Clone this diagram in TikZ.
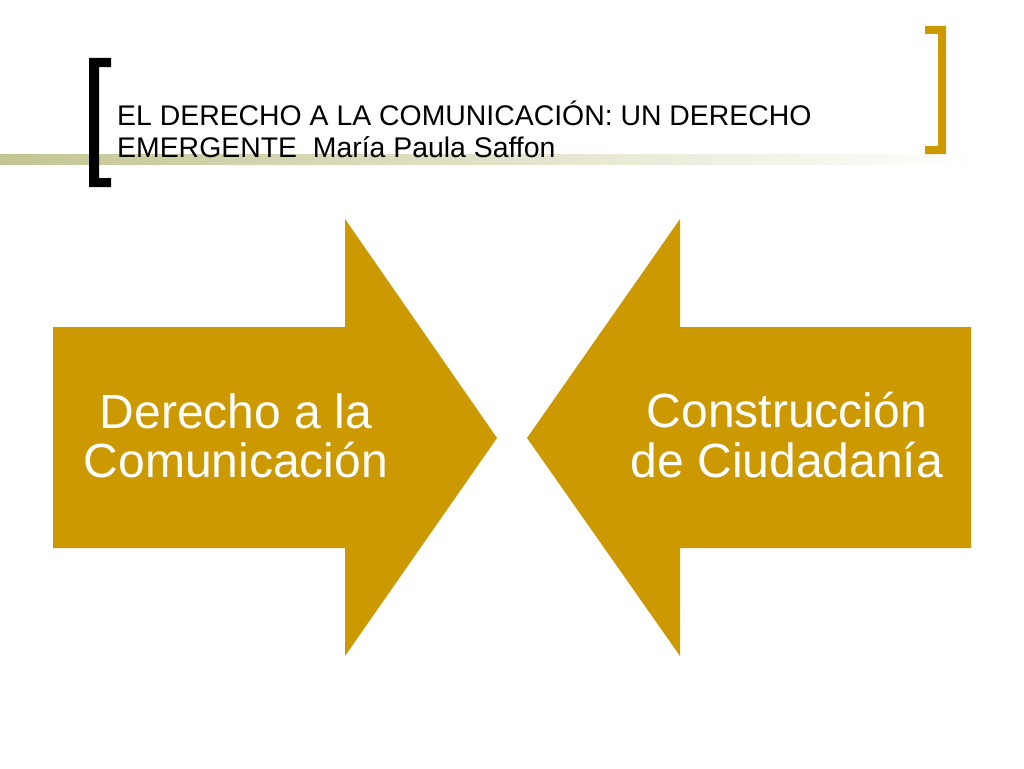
\documentclass[tikz,border=0pt]{standalone}
\usepackage{fontspec}
\setmainfont{Liberation Sans}
\definecolor{gold}{RGB}{204,153,0}
\definecolor{olive}{RGB}{196,196,146}
\begin{document}
\begin{tikzpicture}[x=1pt,y=-1pt,
  titletext/.style={anchor=base west,inner sep=0pt,font=\fontsize{28.4}{32}\selectfont,text=black},
  arrowtext/.style={anchor=base,inner sep=0pt,font=\fontsize{48}{50}\selectfont,text=white},
  arrowshape/.style={fill=gold,draw=none}]
\useasboundingbox[fill=white] (0,0) rectangle (1024,768);
% gradient rule
\shade[left color=olive,right color=white] (0,154) rectangle (975,164);
% brackets
\fill[black] (111,58) -- (89,58) -- (89,187) -- (111,187) -- (111,178) -- (99,178) -- (99,67) -- (111,67) -- cycle;
\fill[gold] (925,26) -- (946,26) -- (946,154) -- (925,154) -- (925,146) -- (938,146) -- (938,34) -- (925,34) -- cycle;
% title
\node[titletext] (t1) at (117,125) {EL DERECHO A LA COMUNICACIÓN: UN DERECHO};
\node[titletext] (t2) at (117,157) {EMERGENTE\ \ María Paula Saffon};
% arrows
\path[arrowshape] (53,327) -- (345,327) -- (345,219) -- (497,438) -- (345,656) -- (345,548) -- (53,548) -- cycle;
\path[arrowshape] (971,327) -- (680,327) -- (680,219) -- (527,438) -- (680,656) -- (680,548) -- (971,548) -- cycle;
\node[arrowtext] (a1) at (236,428) {Derecho a la};
\node[arrowtext] (a2) at (236,477) {Comunicación};
\node[arrowtext] (b1) at (787,427) {Construcción};
\node[arrowtext] (b2) at (787,477) {de Ciudadanía};
\end{tikzpicture}
\end{document}
